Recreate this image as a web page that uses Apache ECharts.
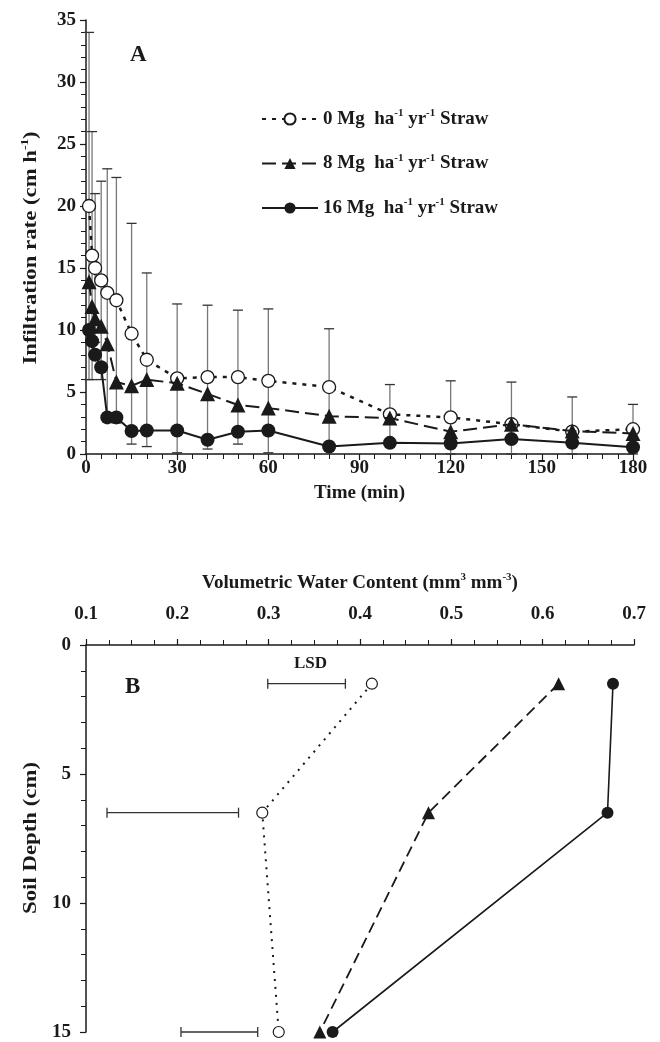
<!DOCTYPE html>
<html><head><meta charset="utf-8">
<script src="https://cdn.jsdelivr.net/npm/echarts@6/dist/echarts.min.js"></script>
<style>html,body{margin:0;padding:0;background:#fff}#c{width:660px;height:1042px}</style>
</head><body><div id="c"></div>
<script>
// ---- Panel A data ----
const timeMin = [1,2,3,5,7,10,15,20,30,40,50,60,80,100,120,140,160,180];
const rate0  = [20,16,15,14,13,12.4,9.7,7.6,6.1,6.2,6.2,5.9,5.4,3.2,2.95,2.4,1.8,2.0];
const err0   = [14,10,6,8,10,9.9,8.9,7.0,6.0,5.8,5.4,5.8,4.7,2.4,2.95,3.4,2.8,2.0];
const rate8  = [13.9,11.9,10.9,10.3,8.9,5.8,5.5,6.0,5.7,4.85,3.95,3.7,3.05,2.9,1.8,2.4,1.85,1.65];
const rate16 = [10,9.1,8.0,7.0,2.95,2.95,1.85,1.9,1.9,1.15,1.8,1.9,0.6,0.9,0.85,1.2,0.9,0.55];
// ---- Panel B data ----
const depthCm = [1.5, 6.5, 15];
const vwc0  = [0.413, 0.293, 0.311];
const vwc8  = [0.6175, 0.475, 0.356];
const vwc16 = [0.677, 0.671, 0.370];
const lsdDepth = [1.5, 6.5, 15];
const lsdLow  = [0.299, 0.123, 0.204];
const lsdHigh = [0.384, 0.267, 0.288];

const FONT = 'Liberation Serif';
const INK = '#1a1a1a';
const names = ['0','8','16'];
const supRich = {
  t:{fontFamily:FONT,fontWeight:'bold',fontSize:19,color:INK},
  s:{fontFamily:FONT,fontWeight:'bold',fontSize:11,color:INK,padding:[0,0,11,0]}
};
const axisLineStyle = {lineStyle:{color:INK,width:1.5}};
const tickLabel = {fontFamily:FONT,fontWeight:'bold',fontSize:19,color:INK};

const errData = timeMin.map((t,i)=>[t, Math.max(0, rate0[i]-err0[i]), rate0[i]+err0[i]]);
const lsdData = lsdDepth.map((d,i)=>[lsdLow[i], lsdHigh[i], d]);

const chart = echarts.init(document.getElementById('c'));
chart.setOption({
  backgroundColor:'#fff',
  animation:false,
  grid:[
    {left:86,right:27,top:20,height:434},
    {left:86,right:26,top:645,height:387}
  ],
  xAxis:[
    {gridIndex:0,type:'value',min:0,max:180,interval:30,
     axisLine:axisLineStyle,axisTick:{length:6,lineStyle:{color:INK,width:1.2}},
     minorTick:{show:true,splitNumber:6,length:5,lineStyle:{color:INK,width:1}},
     splitLine:{show:false},
     axisLabel:Object.assign({margin:5},tickLabel),
     name:'Time (min)',nameLocation:'middle',nameGap:30,
     nameTextStyle:{fontFamily:FONT,fontWeight:'bold',fontSize:19,color:INK}},
    {gridIndex:1,type:'value',position:'top',min:0.1,max:0.7,interval:0.1,
     axisLine:axisLineStyle,axisTick:{length:6,lineStyle:{color:INK,width:1.2}},
     minorTick:{show:true,splitNumber:4,length:5,lineStyle:{color:INK,width:1}},
     splitLine:{show:false},
     axisLabel:Object.assign({margin:21,formatter:v=>v.toFixed(1)},tickLabel),
     name:'Volumetric Water Content (mm{s|3} mm{s|-3})',nameLocation:'middle',nameGap:51,
     nameTextStyle:{fontFamily:FONT,fontWeight:'bold',fontSize:19,color:INK,rich:supRich}}
  ],
  yAxis:[
    {gridIndex:0,type:'value',min:0,max:35,interval:5,
     axisLine:axisLineStyle,axisTick:{length:6,lineStyle:{color:INK,width:1.2}},
     minorTick:{show:true,splitNumber:5,length:5,lineStyle:{color:INK,width:1}},
     splitLine:{show:false},
     axisLabel:Object.assign({margin:10},tickLabel)},
    {gridIndex:1,type:'value',inverse:true,min:0,max:15,interval:5,
     axisLine:axisLineStyle,axisTick:{length:6,lineStyle:{color:INK,width:1.2}},
     minorTick:{show:true,splitNumber:5,length:5,lineStyle:{color:INK,width:1}},
     splitLine:{show:false},
     axisLabel:Object.assign({margin:15},tickLabel)}
  ],
  legend:{
    data:names,orient:'vertical',left:256,top:103,itemWidth:56,itemHeight:14,itemGap:24,
    formatter:n=>`{t|${n} Mg  ha}{s|-1}{t| yr}{s|-1}{t| Straw}`,
    textStyle:{rich:supRich}
  },
  graphic:[
    {type:'text',left:130,top:44,style:{text:'A',font:`bold 23px "${FONT}"`,fill:INK}},
    {type:'text',left:125,top:676,style:{text:'B',font:`bold 23px "${FONT}"`,fill:INK}},
    {type:'text',left:294,top:655,style:{text:'LSD',font:`bold 17px "${FONT}"`,fill:INK}},
    {type:'text',x:31,y:248,rotation:Math.PI/2,scaleX:1.2,
     style:{text:'Infiltration rate (cm h{s|-1})',rich:supRich,align:'center',verticalAlign:'middle',
            fontFamily:FONT,fontWeight:'bold',fontSize:19,fill:INK}},
    {type:'text',x:31,y:838,rotation:Math.PI/2,scaleX:1.2,
     style:{text:'Soil Depth (cm)',align:'center',verticalAlign:'middle',
            fontFamily:FONT,fontWeight:'bold',fontSize:19,fill:INK}}
  ],
  series:[
    {type:'custom',name:'err',xAxisIndex:0,yAxisIndex:0,z:1,data:errData,encode:{x:0,y:[1,2]},
     renderItem:(params,api)=>{
       const x=api.value(0), lo=api.value(1), hi=api.value(2);
       const a=api.coord([x,lo]), b=api.coord([x,hi]); const w=5;
       return {type:'group',children:[
         {type:'line',shape:{x1:a[0],y1:a[1],x2:b[0],y2:b[1]},style:{stroke:'#777',lineWidth:1.3}},
         {type:'line',shape:{x1:b[0]-w,y1:b[1],x2:b[0]+w,y2:b[1]},style:{stroke:'#333',lineWidth:1.3}},
         {type:'line',shape:{x1:a[0]-w,y1:a[1],x2:a[0]+w,y2:a[1]},style:{stroke:'#333',lineWidth:1.3}}
       ]};
     }},
    {type:'line',name:'0',xAxisIndex:0,yAxisIndex:0,z:3,data:timeMin.map((t,i)=>[t,rate0[i]]),
     symbol:'circle',symbolSize:13,itemStyle:{color:'#fff',borderColor:INK,borderWidth:1.3},
     lineStyle:{color:INK,width:2.5,type:[4,6]}},
    {type:'line',name:'8',xAxisIndex:0,yAxisIndex:0,z:4,data:timeMin.map((t,i)=>[t,rate8[i]]),
     symbol:'triangle',symbolSize:15,itemStyle:{color:INK},
     lineStyle:{color:INK,width:2,type:[14,6]}},
    {type:'line',name:'16',xAxisIndex:0,yAxisIndex:0,z:5,data:timeMin.map((t,i)=>[t,rate16[i]]),
     symbol:'circle',symbolSize:14,itemStyle:{color:INK},
     lineStyle:{color:INK,width:2,type:'solid'}},
    {type:'custom',name:'lsd',xAxisIndex:1,yAxisIndex:1,z:2,data:lsdData,encode:{x:[0,1],y:2},
     renderItem:(params,api)=>{
       const d=api.value(2);
       const a=api.coord([api.value(0),d]), b=api.coord([api.value(1),d]); const h=5;
       return {type:'group',children:[
         {type:'line',shape:{x1:a[0],y1:a[1],x2:b[0],y2:b[1]},style:{stroke:'#333',lineWidth:1.3}},
         {type:'line',shape:{x1:a[0],y1:a[1]-h,x2:a[0],y2:a[1]+h},style:{stroke:'#333',lineWidth:1.3}},
         {type:'line',shape:{x1:b[0],y1:b[1]-h,x2:b[0],y2:b[1]+h},style:{stroke:'#333',lineWidth:1.3}}
       ]};
     }},
    {type:'line',name:'b0',xAxisIndex:1,yAxisIndex:1,z:3,data:depthCm.map((d,i)=>[vwc0[i],d]),
     symbol:'circle',symbolSize:11,itemStyle:{color:'#fff',borderColor:INK,borderWidth:1.2},
     lineStyle:{color:INK,width:2,type:[2,6]}},
    {type:'line',name:'b8',xAxisIndex:1,yAxisIndex:1,z:4,data:depthCm.map((d,i)=>[vwc8[i],d]),
     symbol:'triangle',symbolSize:13,itemStyle:{color:INK},
     lineStyle:{color:INK,width:1.8,type:[11,6]}},
    {type:'line',name:'b16',xAxisIndex:1,yAxisIndex:1,z:5,data:depthCm.map((d,i)=>[vwc16[i],d]),
     symbol:'circle',symbolSize:12,itemStyle:{color:INK},
     lineStyle:{color:INK,width:1.6,type:'solid'}}
  ]
});
</script></body></html>
